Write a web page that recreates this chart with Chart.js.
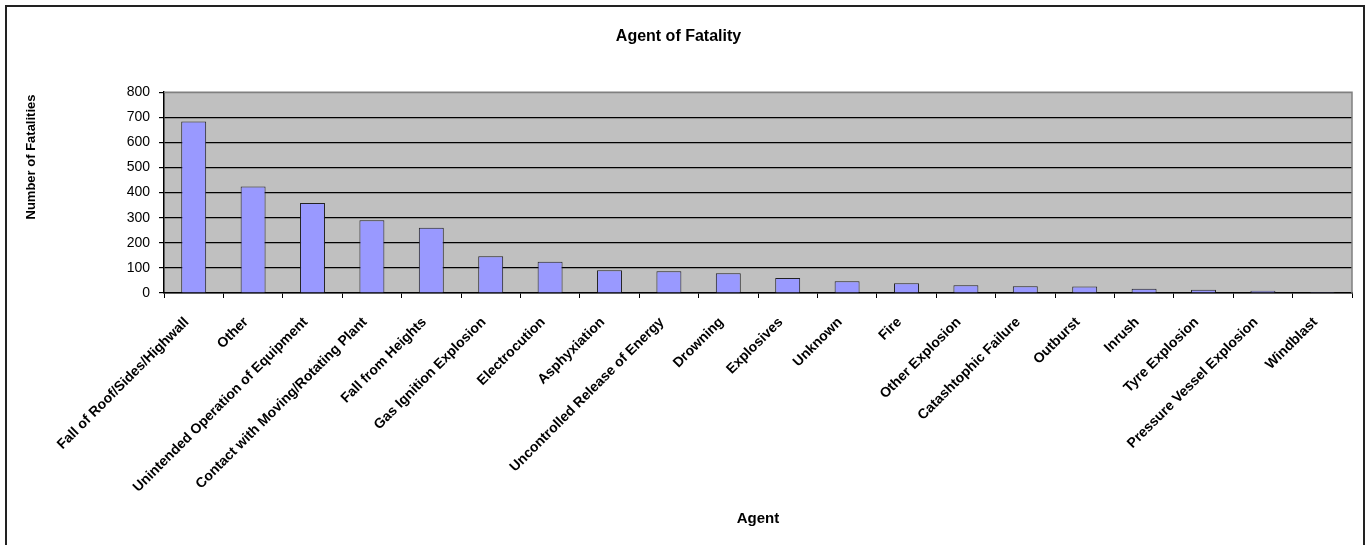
<!DOCTYPE html>
<html>
<head>
<meta charset="utf-8">
<title>Agent of Fatality</title>
<script src="https://cdn.jsdelivr.net/npm/chart.js@4"></script>
<style>
  html, body { margin: 0; padding: 0; background: #fff; overflow: hidden; }
  #wrap { position: relative; width: 1368px; height: 545px; }
  #frame { position: absolute; left: 5px; top: 5px; width: 1356px; height: 600px; border: 2px solid #222; }
  canvas { position: absolute; left: 0; top: 0; }
</style>
</head>
<body>
<div id="wrap">
  <div id="frame"></div>
  <canvas id="chart" width="1368" height="545"></canvas>
</div>
<script>
const agents = ['Fall of Roof/Sides/Highwall', 'Other', 'Unintended Operation of Equipment', 'Contact with Moving/Rotating Plant',
  'Fall from Heights', 'Gas Ignition Explosion', 'Electrocution', 'Asphyxiation', 'Uncontrolled Release of Energy',
  'Drowning', 'Explosives', 'Unknown', 'Fire', 'Other Explosion', 'Catashtophic Failure', 'Outburst', 'Inrush',
  'Tyre Explosion', 'Pressure Vessel Explosion', 'Windblast'];
const fatalities = [683, 424, 359, 290, 260, 146, 125, 91, 87, 79, 60, 47, 39, 31, 27, 26, 17, 13, 9, 4];
const yTicks = [0, 100, 200, 300, 400, 500, 600, 700, 800];

// grey plot area + border, and the y title drawn by hand so it sits where excel put it
const plotBox = {
  id: 'plotBox',
  beforeDraw(c) {
    const a = c.chartArea, ctx = c.ctx;
    ctx.save();
    ctx.fillStyle = '#c0c0c0';
    ctx.fillRect(a.left, a.top, a.right - a.left, a.bottom - a.top);
    ctx.restore();
  },
  afterDraw(c) {
    const a = c.chartArea, ctx = c.ctx;
    ctx.save();
    ctx.strokeStyle = '#808080';
    ctx.lineWidth = 1.5;
    ctx.beginPath();
    ctx.moveTo(a.left, a.top);
    ctx.lineTo(a.right, a.top);
    ctx.lineTo(a.right, a.bottom);
    ctx.stroke();
    ctx.translate(31, 157);
    ctx.rotate(-Math.PI / 2);
    ctx.fillStyle = '#000';
    ctx.font = 'bold 13px "Liberation Sans", Arial, sans-serif';
    ctx.textAlign = 'center';
    ctx.textBaseline = 'middle';
    ctx.fillText('Number of Fatalities', 0, 0);
    ctx.restore();
  }
};

const chart = document.querySelector('#chart').getContext('2d');

new Chart(chart, {
  type: 'bar',
  data: {
    labels: agents,
    datasets: [{
      label: 'Number of Fatalities',
      data: fatalities,
      backgroundColor: '#9999ff',
      borderColor: '#222',
      borderWidth: 1,
      barPercentage: 0.42,
      categoryPercentage: 1
    }]
  },
  options: {
    responsive: false,
    animation: false,
    layout: { padding: { left: 5, right: 16, top: 0, bottom: 10 } },
    plugins: {
      legend: { display: false },
      tooltip: { enabled: false },
      title: {
        display: true,
        text: 'Agent of Fatality',
        color: '#000',
        font: { family: '"Liberation Sans", Arial, sans-serif', size: 16, weight: 'bold' },
        padding: { top: 27, bottom: 46 }
      }
    },
    scales: {
      x: {
        offset: true,
        grid: { offset: true, drawOnChartArea: false, color: '#000', tickLength: 5, lineWidth: 1 },
        border: { color: '#000', width: 1.5 },
        ticks: {
          color: '#000',
          maxRotation: 45,
          minRotation: 45,
          autoSkip: false,
          padding: 16,
          labelOffset: -7,
          font: { family: '"Liberation Sans", Arial, sans-serif', size: 14, weight: 'bold' }
        },
        title: {
          display: true,
          text: 'Agent',
          color: '#000',
          font: { family: '"Liberation Sans", Arial, sans-serif', size: 15, weight: 'bold' },
          padding: { top: 4, bottom: 7 }
        },
        afterFit(s) { s.height = 242; }
      },
      y: {
        min: 0,
        max: 800,
        afterBuildTicks(s) { s.ticks = yTicks.map(v => ({ value: v })); },
        grid: {
          color: ctx => ctx.tick && ctx.tick.value === 800 ? '#808080' : '#000',
          lineWidth: 1.2,
          tickLength: 5,
          tickColor: '#000'
        },
        border: { color: '#000', width: 1.5 },
        ticks: {
          color: '#000',
          padding: 9,
          font: { family: '"Liberation Sans", Arial, sans-serif', size: 14 }
        },
        afterFit(s) { s.width = 159; }
      }
    }
  },
  plugins: [plotBox]
});
</script>
</body>
</html>
